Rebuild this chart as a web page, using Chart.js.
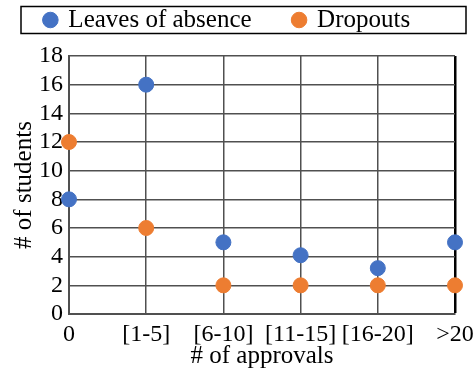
<!DOCTYPE html>
<html>
<head>
<meta charset="utf-8">
<script src="https://cdn.jsdelivr.net/npm/chart.js@4"></script>
<style>
  html, body { margin: 0; padding: 0; background: #fff; }
  #wrap { width: 476px; height: 368px; }
</style>
</head>
<body>
<div id="wrap"><canvas id="chart" width="476" height="368"></canvas></div>
<script>
// categories and series
const approvalBins = ['0', '[1-5]', '[6-10]', '[11-15]', '[16-20]', '>20'];
const leaves = [8, 16, 5, 4.1, 3.2, 5];
const dropouts = [12, 6, 2, 2, 2, 2];
const yTicks = [0, 2, 4, 6, 8, 10, 12, 14, 16, 18];

const FONT = "'Liberation Serif', 'Times New Roman', serif";
const GRID = '#505050';

function toPoints(arr) {
  return arr.map((v, i) => ({ x: i, y: v }));
}

// extra room under the legend + a frame around it
const legendTweaks = {
  id: 'legendTweaks',
  beforeInit(chart) {
    const origFit = chart.legend.fit;
    chart.legend.fit = function fit() {
      origFit.bind(chart.legend)();
      this.height += 13.5;
    };
  },
  afterDraw(chart) {
    const hb = chart.legend.legendHitBoxes;
    if (!hb || !hb.length) return;
    const cy = hb[0].top + hb[0].height / 2;
    const c = chart.ctx;
    c.save();
    c.strokeStyle = '#000';
    c.lineWidth = 1.5;
    c.strokeRect(21, cy - 13.5, chart.width - 31, 27);
    c.restore();
  }
};

new Chart(document.getElementById('chart'), {
  type: 'scatter',
  data: {
    datasets: [
      {
        label: 'Leaves of absence',
        data: toPoints(leaves),
        backgroundColor: '#4472C4',
        borderColor: '#4472C4',
        pointRadius: 7.5,
        pointHoverRadius: 7.5,
        clip: false
      },
      {
        label: 'Dropouts',
        data: toPoints(dropouts),
        backgroundColor: '#ED7D31',
        borderColor: '#ED7D31',
        pointRadius: 7.5,
        pointHoverRadius: 7.5,
        clip: false
      }
    ]
  },
  options: {
    responsive: false,
    animation: false,
    layout: { padding: { left: 0, right: 21, top: -34.5, bottom: -3 } },
    plugins: {
      legend: {
        position: 'top',
        labels: {
          color: '#000',
          font: { family: FONT, size: 25 },
          usePointStyle: true,
          pointStyle: 'circle',
          boxWidth: 11,
          boxHeight: 11,
          padding: 42
        }
      },
      tooltip: { enabled: false }
    },
    scales: {
      x: {
        type: 'linear',
        min: 0,
        max: approvalBins.length - 1,
        afterBuildTicks: axis => { axis.ticks = approvalBins.map((_, i) => ({ value: i })); },
        afterFit: axis => {
          axis.height = 57;
          axis.paddingLeft = 0;
          axis.paddingRight = 21;
        },
        ticks: {
          color: '#000',
          font: { family: FONT, size: 24 },
          padding: 6,
          maxRotation: 0,
          autoSkip: false,
          callback: v => approvalBins[v]
        },
        grid: {
          color: c => c.tick && c.tick.value === approvalBins.length - 1 ? '#000' : GRID,
          lineWidth: c => c.tick && c.tick.value === approvalBins.length - 1 ? 2.5 : 1.5,
          drawTicks: false
        },
        border: { color: GRID, width: 2 },
        title: {
          display: true,
          text: '# of approvals',
          color: '#000',
          font: { family: FONT, size: 25 },
          padding: 0
        }
      },
      y: {
        min: 0,
        max: 18,
        afterBuildTicks: axis => { axis.ticks = yTicks.map(v => ({ value: v })); },
        afterFit: axis => { axis.width = 69; },
        ticks: {
          color: '#000',
          font: { family: FONT, size: 24 },
          padding: 6,
          autoSkip: false
        },
        grid: { color: GRID, lineWidth: 1.5, drawTicks: false },
        border: { color: GRID, width: 2 },
        title: {
          display: true,
          text: '# of students',
          color: '#000',
          font: { family: FONT, size: 25 },
          padding: { top: 9, bottom: 0 }
        }
      }
    }
  },
  plugins: [legendTweaks]
});
</script>
</body>
</html>
